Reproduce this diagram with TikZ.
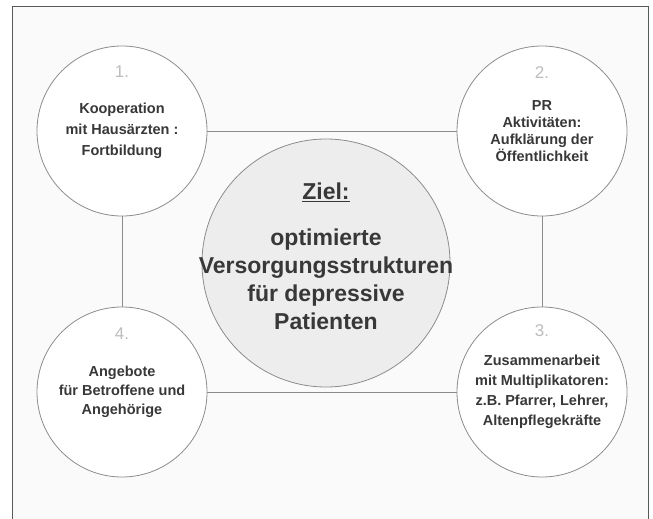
\documentclass[tikz,border=0pt]{standalone}
\usepackage{fontspec}
\setmainfont{Liberation Sans}
\definecolor{framegrey}{HTML}{5A5A5A}
\definecolor{linegrey}{HTML}{8C8C8C}
\definecolor{txtgrey}{HTML}{383838}
\definecolor{numgrey}{HTML}{BDBDBD}
\definecolor{goalfill}{HTML}{EDEDED}
\definecolor{bgfill}{HTML}{FAFAFA}
\begin{document}
\begin{tikzpicture}[x=1pt,y=-1pt,
  ring/.style={circle,draw=linegrey,line width=0.8pt,fill=white,minimum size=170pt,inner sep=0pt,
    align=center,text=txtgrey,font=\bfseries\fontsize{14.5}{21}\selectfont},
  goalring/.style={circle,draw=linegrey,line width=0.8pt,fill=goalfill,minimum size=248pt,inner sep=0pt},
  goaltxt/.style={align=center,text=txtgrey,font=\bfseries\fontsize{23}{28}\selectfont},
  num/.style={text=numgrey,font=\fontsize{17}{17}\selectfont},
  link/.style={draw=linegrey,line width=0.8pt}]
\useasboundingbox (0,0) rectangle (653,519);
\fill[white] (0,0) rectangle (653,519);
\fill[bgfill] (12,7) rectangle (648,519);
\draw[framegrey,line width=1pt] (12,519) -- (12,7) -- (648,7) -- (648,519);

\node[ring] (c1) at (122,131) {Kooperation\\mit Hausärzten :\\Fortbildung};
\node[ring,font=\bfseries\fontsize{14.5}{17}\selectfont] (c2) at (542,131) {PR\\Aktivitäten:\\Aufklärung der\\Öffentlichkeit};
\node[ring,font=\bfseries\fontsize{14.5}{20}\selectfont] (c3) at (542,392) {Zusammenarbeit\\mit Multiplikatoren:\\z.B. Pfarrer, Lehrer,\\Altenpflegekräfte};
\node[ring,font=\bfseries\fontsize{14.5}{19}\selectfont] (c4) at (122,392) {Angebote\\für Betroffene und\\Angehörige};

\node[num] (n1) at ([yshift=59pt]c1.center) {1.};
\node[num] (n2) at ([yshift=58pt]c2.center) {2.};
\node[num] (n3) at ([yshift=61pt]c3.center) {3.};
\node[num] (n4) at ([yshift=58pt]c4.center) {4.};

\node[goalring] (goal) at (326,263) {};
\node[goaltxt] (goaltext) at ([yshift=7pt]goal.center) {\underline{Ziel:}\\[18pt]optimierte\\Versorgungsstrukturen\\für depressive\\Patienten};

\draw[link] (c1.east) -- (c2.west);
\draw[link] (c2.south) -- (c3.north);
\draw[link] (c4.east) -- (c3.west);
\draw[link] (c1.south) -- (c4.north);
\end{tikzpicture}
\end{document}
